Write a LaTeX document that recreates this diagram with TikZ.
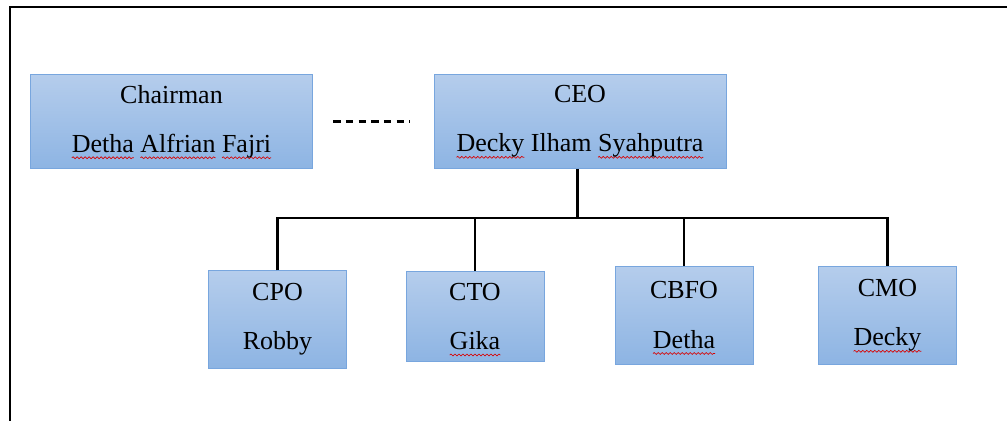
\documentclass[tikz,border=0pt]{standalone}
\usepackage{fontspec}
\setmainfont{Liberation Serif}
\usepackage{tikz}
\usetikzlibrary{calc,decorations.pathmorphing}

\definecolor{boxtop}{RGB}{181,205,236}
\definecolor{boxbot}{RGB}{141,180,227}
\definecolor{boxline}{RGB}{120,166,222}

\newsavebox\wavebox
\newcommand\spellwave[1]{\sbox\wavebox{#1}\leavevmode\rlap{\tikz[overlay,x=1pt,y=1pt] \draw[red!85!black,line width=0.5pt,decorate,decoration={snake,amplitude=0.7pt,segment length=3pt}] (0pt,-4pt) -- (\wd\wavebox,-4pt);}\usebox\wavebox}

\begin{document}
\begin{tikzpicture}[x=0.75pt,y=-0.75pt]
      \tikzstyle{post} = [draw=boxline,line width=0.6pt,top color=boxtop,bottom color=boxbot,align=center,font=\fontsize{19.5}{37}\selectfont,inner sep=0pt]
      \tikzstyle{link} = [black,line width=1.8pt]
      %
      \useasboundingbox (0,0) rectangle (1007,421);
      % Frame.
      \draw[line width=1.6pt] (10,421) -- (10,7) -- (1007,7);

      % Top row.
      \node[post,minimum width=212pt,minimum height=71pt] (chair) at (171.5,121.5) {Chairman\\\spellwave{Detha} \spellwave{Alfrian} \spellwave{Fajri}};
      \node[post,minimum width=219pt,minimum height=71pt] (ceo) at (580,121.5) {CEO\\\spellwave{Decky} Ilham \spellwave{Syahputra}};

      % Bottom row.
      \node[post,minimum width=104pt,minimum height=73pt] (cpo) at (277.5,319.5) {CPO\\Robby};
      \node[post,minimum width=103.5pt,minimum height=68pt] (cto) at (475,316.5) {CTO\\\spellwave{Gika}};
      \node[post,minimum width=103.5pt,minimum height=73.5pt] (cbfo) at (684,315) {CBFO\\\spellwave{Detha}};
      \node[post,minimum width=104pt,minimum height=74pt] (cmo) at (887.5,315.5) {CMO\\\spellwave{Decky}};

      % Lines.
      \coordinate (bus) at (0,218);
      \draw[link,dash pattern=on 5.5pt off 4pt,shorten <=15pt,shorten >=18pt] (chair) -- (ceo);
      \draw[link] ([xshift=-2pt]ceo.south) -- ([xshift=-2pt]ceo.south |- bus);
      \draw[link] (cpo.north) -- (cpo.north |- bus) -- (cmo.north |- bus) -- (cmo.north);
      \draw[link] (cto.north) -- (cto.north |- bus) (cbfo.north) -- (cbfo.north |- bus);
      %
\end{tikzpicture}
\end{document}
